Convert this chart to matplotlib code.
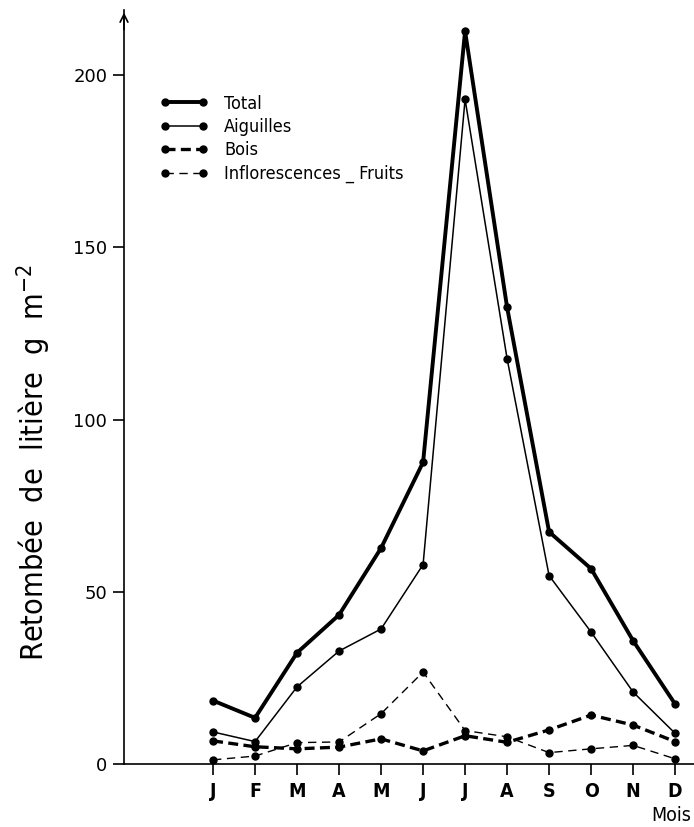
import matplotlib
matplotlib.use("Agg")
import matplotlib.pyplot as plt

plt.rcParams['font.family'] = ['DejaVu Sans']
plt.rcParams['font.stretch'] = 'condensed'

months = ["J", "F", "M", "A", "M", "J", "J", "A", "S", "O", "N", "D"]
total = [18.4, 13.4, 32.3, 43.3, 62.7, 87.6, 212.8, 132.6, 67.4, 56.7, 35.8, 17.4]
aiguilles = [9.3, 6.5, 22.4, 32.8, 39.2, 57.9, 193.0, 117.7, 54.7, 38.3, 20.9, 8.9]
bois = [6.7, 5.0, 4.4, 4.9, 7.3, 3.8, 8.2, 6.3, 9.9, 14.2, 11.3, 6.5]
inflor = [1.2, 2.3, 6.2, 6.4, 14.6, 26.7, 9.7, 7.9, 3.3, 4.4, 5.4, 1.5]
yticks = [0, 50, 100, 150, 200]

x = list(range(1, 13))

fig = plt.figure(figsize=(6.94, 8.27), dpi=100)
ax = fig.add_axes([0.1787, 0.0762, 0.8213, 0.912])

ax.plot(x, total, color='black', lw=2.8, ls='-', marker='o', ms=5, label='Total')
ax.plot(x, aiguilles, color='black', lw=1.1, ls='-', marker='o', ms=5, label='Aiguilles')
ax.plot(x, bois, color='black', lw=2.4, ls=(0, (3, 1.6)), marker='o', ms=5, label='Bois')
ax.plot(x, inflor, color='black', lw=1.0, ls=(0, (6, 4)), marker='o', ms=5, label='Inflorescences _ Fruits')

ax.set_xlim(-1.12, 12.45)
ax.set_ylim(0, 219)
ax.set_xticks(x)
ax.set_xticklabels(months, fontsize=14, fontweight='bold')
ax.set_yticks(yticks)
ax.set_yticklabels([str(v) for v in yticks], fontsize=13, fontstretch='normal')
ax.tick_params(axis='both', direction='out', length=8, width=1.2, color='black')
ax.tick_params(axis='x', pad=5)
ax.tick_params(axis='y', pad=4)

for s in ['top', 'right']:
    ax.spines[s].set_visible(False)
ax.spines['left'].set_linewidth(1.2)
ax.spines['bottom'].set_linewidth(1.2)

ax.annotate('', xy=(0, 1.0), xytext=(0, 0.97), xycoords='axes fraction',
            arrowprops=dict(arrowstyle='->', color='black', lw=1.2, mutation_scale=14))

ax.set_ylabel('Retombée  de  litière  g  m$^{-2}$', fontsize=22)
ax.yaxis.set_label_coords(-0.125, 0.40)
ax.text(12.38, -0.068, 'Mois', transform=ax.get_xaxis_transform(), fontsize=14,
        ha='right', va='center')

leg = ax.legend(loc='upper left', bbox_to_anchor=(0.049, 0.897), frameon=False,
                numpoints=2, handlelength=2.7, fontsize=13, labelspacing=0.3,
                handletextpad=0.9, borderaxespad=0)

fig.savefig('out.png', dpi=100)
